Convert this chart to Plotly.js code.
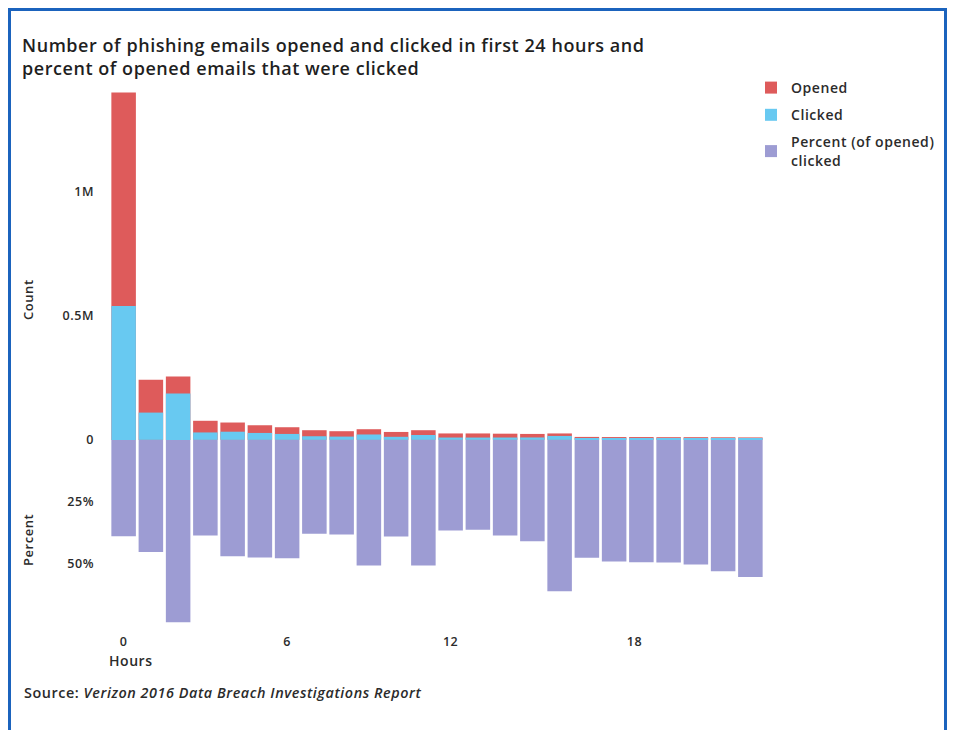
<!DOCTYPE html>
<html>
<head>
<meta charset="utf-8">
<script src="https://cdn.plot.ly/plotly-3.0.1.min.js"></script>
<style>
  html, body { margin: 0; padding: 0; background: #ffffff; }
  #wrap { position: relative; width: 953px; height: 730px; overflow: hidden; }
  #chart { width: 953px; height: 730px; }
  /* slightly tracked lettering; applies to Plotly's text measurer too */
  text { letter-spacing: 0.55px; }
  #frame {
    position: absolute; left: 8px; top: 8px; width: 933px; height: 740px;
    border-left: 3px solid #1b63bd; border-top: 3px solid #1b63bd; border-right: 3px solid #1b63bd;
    pointer-events: none;
  }
</style>
</head>
<body>
<div id="wrap">
  <div id="chart"></div>
  <div id="frame"></div>
</div>
<script>
// Hours since delivery
const hours = [0, 1, 2, 3, 4, 5, 6, 7, 8, 9, 10, 11, 12, 13, 14, 15, 16, 17, 18, 19, 20, 21, 22, 23];

// Number of phishing emails opened in each hour
const opened = [1400000, 242000, 255000, 77000, 70000, 59000, 51000, 39000, 35000, 43000, 32000, 39000,
                26000, 26000, 25000, 24000, 26000, 12000, 11500, 11500, 11000, 11000, 10500, 10000];

// Number of those emails that were clicked
const clicked = [540000, 110000, 187000, 30000, 33000, 28000, 24000, 14700, 13300, 21800, 12400, 19700,
                 9500, 9400, 9600, 9800, 15900, 5700, 5600, 5700, 5400, 5500, 5600, 5500];

// Percent of opened emails that were clicked
const pctClicked = [38.8, 45.2, 73.5, 38.5, 46.9, 47.4, 47.7, 37.8, 38.1, 50.6, 38.9, 50.6,
                    36.5, 36.2, 38.5, 40.8, 61.0, 47.5, 49.0, 49.3, 49.4, 50.2, 52.9, 55.3];

// Axis tick labels (counts above zero in millions, percent hanging below)
const yTickVals = [1, 0.5, 0, -0.25, -0.5];
const yTickText = ['1M', '0.5M', '0', '25%', '50%'];
const yGridVals = [1, 0.5, -0.5];
const xTickVals = [0, 6, 12, 18.75];
const xTickText = ['0', '6', '12', '18'];

const FONT = '"Open Sans", "Liberation Sans", Arial, sans-serif';
const INK = '#2b2b2b';

// Counts share one vertical scale with percent: 0.5M above zero matches 50% below it
const toMillions = v => v / 1e6;
const toDown = p => -p / 100;

const traces = [
  {
    type: 'bar', name: 'Opened', legendgroup: 'o', x: hours, y: opened.map(toMillions),
    marker: { color: '#de5b5b', line: { width: 0 } },
    customdata: opened, hovertemplate: 'Hour %{x}<br>Opened: %{customdata:,}<extra></extra>'
  },
  {
    type: 'bar', name: 'Clicked', legendgroup: 'c', x: hours, y: clicked.map(toMillions),
    marker: { color: '#68c9f1', line: { width: 0 } },
    customdata: clicked, hovertemplate: 'Hour %{x}<br>Clicked: %{customdata:,}<extra></extra>'
  },
  {
    type: 'bar', name: 'Percent (of opened)<br>clicked', legendgroup: 'p', x: hours, y: pctClicked.map(toDown),
    marker: { color: '#9d9cd3', line: { width: 0 } },
    customdata: pctClicked, hovertemplate: 'Hour %{x}<br>%{customdata}% clicked<extra></extra>'
  }
];

const layout = {
  width: 953, height: 730,
  paper_bgcolor: 'rgba(0,0,0,0)', plot_bgcolor: 'rgba(0,0,0,0)',
  margin: { l: 110, r: 189, t: 90, b: 104, autoexpand: false },
  font: { family: FONT, color: INK, size: 12 },
  barmode: 'overlay',
  bargap: 0.1,
  title: {
    text: 'Number of phishing emails opened and clicked in first 24 hours and<br>percent of opened emails that were clicked',
    font: { family: FONT, size: 18, color: '#1f1f1f', weight: 600 },
    x: 22 / 953, xanchor: 'left', xref: 'container',
    y: 1 - 52 / 730, yanchor: 'top', yref: 'container'
  },
  xaxis: {
    range: [-0.5, 23.5], tickvals: xTickVals, ticktext: xTickText,
    showgrid: false, zeroline: false, showline: false,
    ticks: '', ticklabelstandoff: 6,
    tickfont: { family: FONT, size: 12.5, color: INK, weight: 600 }
  },
  yaxis: {
    range: [-0.75, 1.41], tickvals: yTickVals, ticktext: yTickText,
    showgrid: false, zeroline: false, showline: false,
    ticks: '', ticklabelstandoff: 15,
    tickfont: { family: FONT, size: 12.5, color: INK, weight: 600 }
  },
  yaxis2: {
    overlaying: 'y', range: [-0.75, 1.41], tickvals: yGridVals,
    showgrid: true, gridcolor: '#e8e8e8', gridwidth: 1,
    showticklabels: false, zeroline: false, showline: false, ticks: ''
  },
  showlegend: true,
  legend: {
    x: 751 / 953, xref: 'container', xanchor: 'left',
    y: 1 - 72 / 730, yref: 'container', yanchor: 'top',
    font: { family: FONT, size: 14, color: INK, weight: 600 },
    bgcolor: 'rgba(0,0,0,0)', traceorder: 'grouped', tracegroupgap: 6
  },
  annotations: [
    { text: 'Count', textangle: -90, xref: 'paper', yref: 'paper',
      x: (28 - 110) / 654, y: (626 - 300) / 536, xanchor: 'center', yanchor: 'middle',
      showarrow: false, font: { family: FONT, size: 13, color: INK, weight: 600 } },
    { text: 'Percent', textangle: -90, xref: 'paper', yref: 'paper',
      x: (28 - 110) / 654, y: (626 - 540) / 536, xanchor: 'center', yanchor: 'middle',
      showarrow: false, font: { family: FONT, size: 13, color: INK, weight: 600 } },
    { text: 'Hours', xref: 'paper', yref: 'paper',
      x: (131 - 110) / 654, y: (626 - 660) / 536, xanchor: 'center', yanchor: 'middle',
      showarrow: false, font: { family: FONT, size: 14, color: INK, weight: 600 } },
    { text: 'Source: <i>Verizon 2016 Data Breach Investigations Report</i>', xref: 'paper', yref: 'paper',
      x: (22 - 110) / 654, y: (626 - 692) / 536, xanchor: 'left', yanchor: 'middle',
      showarrow: false, font: { family: FONT, size: 14.4, color: INK, weight: 600 } }
  ]
};

Plotly.newPlot('chart', traces, layout, { displayModeBar: false });
</script>
</body>
</html>
